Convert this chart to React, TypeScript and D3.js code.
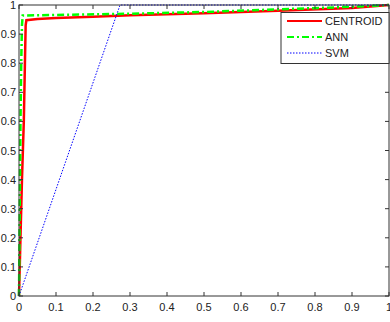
import React, { useEffect, useRef } from 'react'
import * as d3 from 'd3'

// ROC-like curves
const centroidFpr = [0, 0.003, 0.008, 0.013, 0.016, 0.018, 0.02, 0.05, 0.1, 0.2, 0.3, 0.5, 0.7, 0.9, 1]
const centroidTpr = [0, 0.15, 0.4, 0.6, 0.8, 0.93, 0.948, 0.952, 0.955, 0.96, 0.965, 0.972, 0.98, 0.99, 1]
const annFpr = [0, 0.002, 0.004, 0.006, 0.008, 0.01, 0.1, 0.3, 0.5, 0.7, 0.9, 1]
const annTpr = [0, 0.3, 0.6, 0.8, 0.93, 0.964, 0.966, 0.97, 0.976, 0.985, 0.994, 1]
const svmFpr = [0, 0.273, 1]
const svmTpr = [0, 1, 1]

const xTicks = [0, 0.1, 0.2, 0.3, 0.4, 0.5, 0.6, 0.7, 0.8, 0.9, 1]
const yTicks = [0, 0.1, 0.2, 0.3, 0.4, 0.5, 0.6, 0.7, 0.8, 0.9, 1]
const seriesNames = ['CENTROID', 'ANN', 'SVM']

const App = () => {
  const refSvg = useRef(null)

  useEffect(() => {
    const svg = d3.select(refSvg.current)
    svg.selectAll('*').remove()
    const left = 19, right = 389, top = 5, bottom = 296
    const x = d3.scaleLinear().domain([0, 1]).range([left, right])
    const y = d3.scaleLinear().domain([0, 1]).range([bottom, top])
    const font = 'Liberation Sans, Arial, sans-serif'

    svg.append('rect').attr('width', 390).attr('height', 322).attr('fill', '#fff')

    const line = d3.line<[number, number]>().x((d) => x(d[0])).y((d) => y(d[1]))
    const series = [
      { xs: centroidFpr, ys: centroidTpr, color: '#ff0000', width: 2.5, dash: null },
      { xs: annFpr, ys: annTpr, color: '#00ff00', width: 2.5, dash: '7,3,2,3' },
      { xs: svmFpr, ys: svmTpr, color: '#0000ff', width: 1, dash: '1.5,1.5' },
    ]
    // draw back to front so red sits under green like the picture
    series.forEach((s) => {
      svg.append('path')
        .datum(s.xs.map((v, i) => [v, s.ys[i]] as [number, number]))
        .attr('d', line)
        .attr('fill', 'none')
        .attr('stroke', s.color)
        .attr('stroke-width', s.width)
        .attr('stroke-dasharray', s.dash)
    })

    // box
    svg.append('rect').attr('x', left).attr('y', top).attr('width', right - left).attr('height', bottom - top)
      .attr('fill', 'none').attr('stroke', '#333').attr('stroke-width', 1)

    const g = svg.append('g').attr('font-family', font).attr('font-size', 11).attr('fill', '#222')
    xTicks.forEach((t) => {
      g.append('line').attr('x1', x(t)).attr('x2', x(t)).attr('y1', bottom).attr('y2', bottom - 4).attr('stroke', '#333')
      g.append('line').attr('x1', x(t)).attr('x2', x(t)).attr('y1', top).attr('y2', top + 4).attr('stroke', '#333')
      g.append('text').attr('x', x(t)).attr('y', bottom + 15).attr('text-anchor', 'middle').text(String(t))
    })
    yTicks.forEach((t) => {
      g.append('line').attr('x1', left).attr('x2', left + 4).attr('y1', y(t)).attr('y2', y(t)).attr('stroke', '#333')
      g.append('line').attr('x1', right).attr('x2', right - 4).attr('y1', y(t)).attr('y2', y(t)).attr('stroke', '#333')
      g.append('text').attr('x', left - 3).attr('y', y(t) + 4).attr('text-anchor', 'end').text(String(t))
    })

    // legend
    const lg = svg.append('g')
    lg.append('rect').attr('x', 281).attr('y', 12.5).attr('width', 108).attr('height', 51)
      .attr('fill', '#fff').attr('stroke', '#333')
    series.forEach((s, i) => {
      const ly = 21 + i * 16
      lg.append('line').attr('x1', 287).attr('x2', 322).attr('y1', ly).attr('y2', ly)
        .attr('stroke', s.color).attr('stroke-width', s.width === 1 ? 1 : 2)
        .attr('stroke-dasharray', s.dash)
      lg.append('text').attr('x', 325).attr('y', ly + 4).attr('font-family', font).attr('font-size', 11)
        .attr('fill', '#222').text(seriesNames[i])
    })
  })

  return (
    <div style={{ position: 'absolute', left: 0, top: 0 }}>
      <svg ref={refSvg} width={390} height={322} style={{ display: 'block' }} />
    </div>
  )
}

export default App
